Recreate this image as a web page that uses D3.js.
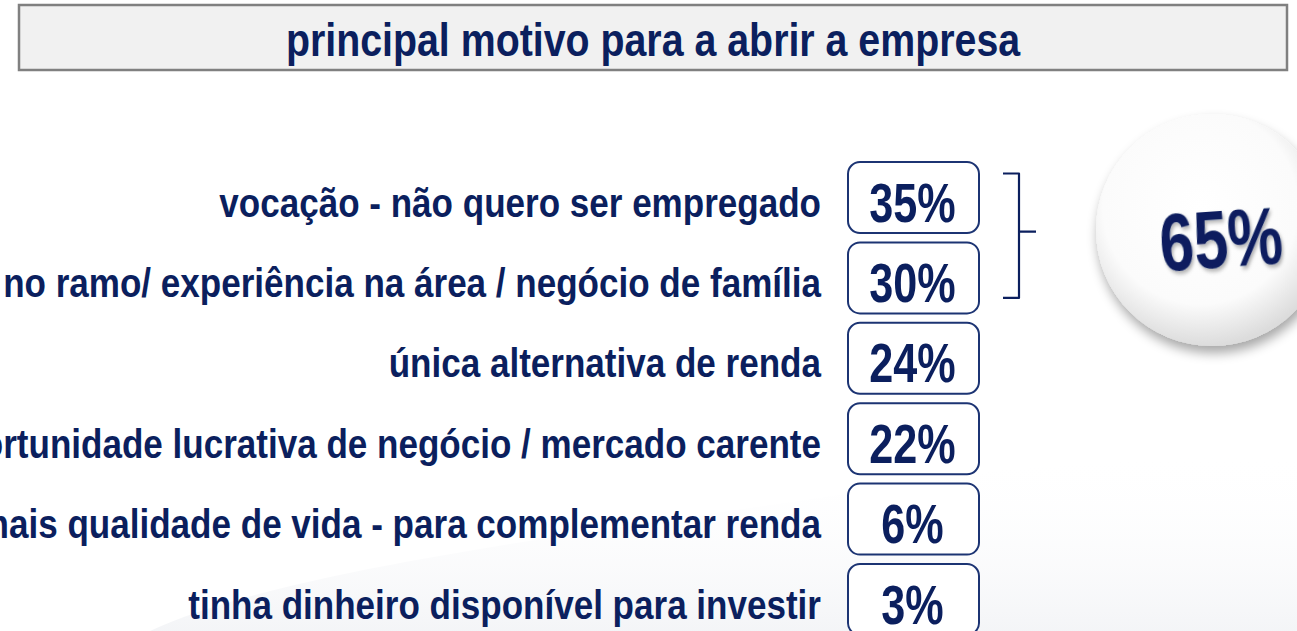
<!DOCTYPE html>
<html><head><meta charset="utf-8">
<script src="https://cdn.jsdelivr.net/npm/d3@7"></script>
<style>
html,body{margin:0;padding:0;background:#fff;overflow:hidden}
svg{display:block}
</style></head>
<body>
<script>
const title = "principal motivo para a abrir a empresa";
const categories = [
  "vocação - não quero ser empregado",
  "prática no ramo/ experiência na área / negócio de família",
  "única alternativa de renda",
  "oportunidade lucrativa de negócio / mercado carente",
  "mais qualidade de vida - para complementar renda",
  "tinha dinheiro disponível para investir"
];
const values = [35, 30, 24, 22, 6, 3];
const groupedCategories = [categories[0], categories[1]];
const groupTotal = 65;

const W = 1297, H = 631;
const navy = "#0b1f5e";
const font = "'Liberation Sans',Arial,sans-serif";

const svg = d3.select("body").append("svg").attr("width", W).attr("height", H);
const defs = svg.append("defs");

// faint background watermark shapes
const bgGrad = defs.append("linearGradient").attr("id","bgg").attr("x1",0).attr("y1",0).attr("x2",0).attr("y2",1);
bgGrad.append("stop").attr("offset","0%").attr("stop-color","#ffffff").attr("stop-opacity",0);
bgGrad.append("stop").attr("offset","100%").attr("stop-color","#eceef2").attr("stop-opacity",1);
svg.append("path").attr("d","M150,631 C300,560 700,520 1000,470 L1297,450 L1297,631 Z").attr("fill","url(#bgg)").attr("opacity",0.6);

// title box
svg.append("rect").attr("x",19).attr("y",5).attr("width",1268).attr("height",65)
  .attr("fill","#f1f1f1").attr("stroke","#808080").attr("stroke-width",2.5);
svg.append("text").attr("transform","translate(653,56) scale(0.855,1)").attr("text-anchor","middle")
  .attr("font-family",font).attr("font-weight","bold").attr("font-size",46)
  .attr("fill",navy).text(title);

const y = d3.scalePoint().domain(categories).range([197.5, 599.5]);
const boxX = 848, boxW = 131, boxH = 71;

// labels
svg.append("g").selectAll("text").data(categories).join("text")
  .attr("transform", d => `translate(821,${y(d) + 19}) scale(0.855,1)`)
  .attr("text-anchor","end")
  .attr("font-family",font).attr("font-weight","bold").attr("font-size",41)
  .attr("fill",navy).text(d => d);

// value boxes
const rows = svg.append("g").selectAll("g").data(categories).join("g");
rows.append("rect")
  .attr("x", boxX).attr("y", d => y(d) - boxH/2)
  .attr("width", boxW).attr("height", boxH).attr("rx", 12)
  .attr("fill","#fff").attr("stroke","#1c3473").attr("stroke-width",2);
rows.append("text")
  .attr("transform", d => `translate(${boxX + boxW/2 - 1},${y(d) + 24}) scale(0.77,1)`)
  .attr("text-anchor","middle")
  .attr("font-family",font).attr("font-weight","bold").attr("font-size",56)
  .attr("fill",navy).text((d,i) => values[i] + "%");

// bracket
const bTop = y(groupedCategories[0]) - 24, bBot = y(groupedCategories[1]) + 20;
const bMid = (bTop + bBot)/2 - 4;
svg.append("path")
  .attr("d", `M1003,${bTop} L1019,${bTop} L1019,${bBot} L1003,${bBot} M1019,${bMid} L1036,${bMid}`)
  .attr("fill","none").attr("stroke",navy).attr("stroke-width",2.2).attr("stroke-linejoin","round");

// circle
const cg = defs.append("radialGradient").attr("id","cg").attr("cx","45%").attr("cy","40%").attr("r","60%");
cg.append("stop").attr("offset","0%").attr("stop-color","#ffffff");
cg.append("stop").attr("offset","70%").attr("stop-color","#fbfbfb");
cg.append("stop").attr("offset","100%").attr("stop-color","#dcdcdc");
const sh = defs.append("filter").attr("id","sh").attr("x","-30%").attr("y","-30%").attr("width","160%").attr("height","160%");
sh.append("feGaussianBlur").attr("in","SourceAlpha").attr("stdDeviation",6);
sh.append("feOffset").attr("dx",2).attr("dy",7).attr("result","o");
sh.append("feComponentTransfer").append("feFuncA").attr("type","linear").attr("slope",0.35);
const m = sh.append("feMerge"); m.append("feMergeNode"); m.append("feMergeNode").attr("in","SourceGraphic");
svg.append("circle").attr("cx",1212).attr("cy",230).attr("r",116)
  .attr("fill","url(#cg)").attr("filter","url(#sh)");
const ts = defs.append("filter").attr("id","ts").attr("x","-20%").attr("y","-20%").attr("width","140%").attr("height","140%");
ts.append("feDropShadow").attr("dx",2).attr("dy",3).attr("stdDeviation",2).attr("flood-color","#000").attr("flood-opacity",0.3);
svg.append("g").attr("transform","rotate(-4,1221,240)")
  .append("text").attr("transform","translate(1221,267) scale(0.75,1)").attr("text-anchor","middle")
  .attr("font-family",font).attr("font-weight","bold").attr("font-size",82)
  .attr("fill",navy).attr("filter","url(#ts)").text(groupTotal + "%");
</script>
</body></html>
